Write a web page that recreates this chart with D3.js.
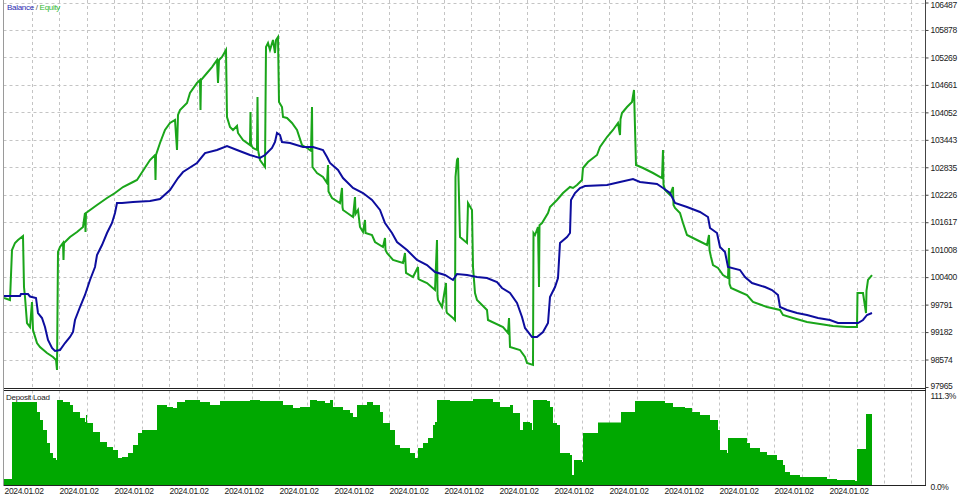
<!DOCTYPE html>
<html><head><meta charset="utf-8">
<script src="https://cdn.jsdelivr.net/npm/d3@7"></script>
<style>
body{margin:0;background:#fff}
svg{display:block}
text{font-family:"Liberation Sans",Arial,sans-serif}
</style>
</head><body><svg id="c" width="960" height="498"></svg>
<script>
// ---------- data ----------
const timeLabels = ["2024.01.02","2024.01.02","2024.01.02","2024.01.02","2024.01.02","2024.01.02","2024.01.02","2024.01.02",
                    "2024.01.02","2024.01.02","2024.01.02","2024.01.02","2024.01.02","2024.01.02","2024.01.02","2024.01.02"];
const balanceTicks = [97965, 98574, 99182, 99791, 100400, 101008, 101617, 102226, 102835, 103443, 104052, 104661, 105269, 105878, 106487];
const loadTicks = [0, 111.3];
const legendSeries = ["Balance", "Equity"];
const loadTitle = "Deposit Load";

// [time step, balance]
const balance = [[0,99982],[16,99982],[17,100026],[24,100026],[26,99971],[32,99938],[34,99605],[38,99494],[41,99295],[44,99007],[48,98829],[51,98763],[56,98785],[61,98940],[66,99073],[69,99184],[71,99450],[76,99738],[81,100004],[86,100337],[91,100625],[93,100891],[98,101112],[103,101378],[108,101600],[111,101822],[113,102043],[118,102043],[129,102065],[146,102088],[156,102132],[166,102331],[174,102597],[179,102730],[193,102930],[201,103151],[213,103218],[223,103307],[233,103218],[246,103107],[256,103041],[261,103107],[268,103262],[271,103395],[273,103595],[276,103550],[278,103395],[286,103373],[299,103284],[309,103284],[319,103218],[323,103063],[326,102930],[334,102775],[339,102597],[349,102376],[359,102265],[368,102110],[376,101888],[381,101600],[388,101378],[393,101179],[403,101001],[413,100780],[423,100669],[431,100514],[441,100447],[449,100337],[453,100470],[463,100447],[473,100403],[483,100381],[493,100292],[498,100159],[506,100048],[513,99827],[518,99516],[521,99273],[528,99073],[533,99073],[539,99184],[544,99383],[546,99960],[551,100181],[554,100381],[556,101157],[563,101290],[566,101378],[567,102110],[571,102265],[576,102376],[581,102420],[603,102442],[616,102509],[629,102575],[636,102509],[653,102464],[659,102376],[666,102265],[671,102043],[683,101955],[696,101844],[704,101733],[706,101489],[713,101378],[716,101068],[721,100957],[724,100625],[736,100558],[741,100403],[748,100270],[761,100181],[768,100115],[774,100004],[776,99738],[783,99672],[793,99605],[803,99561],[814,99494],[826,99450],[834,99383],[854,99383],[859,99450],[863,99561],[868,99605]];

// [time step, equity]
const equity = [[0,99938],[6,99893],[8,101001],[11,101157],[14,101223],[19,101312],[20,100181],[21,99960],[23,99383],[26,99295],[28,99849],[29,99228],[33,98940],[36,98852],[43,98719],[49,98630],[52,98563],[53,98342],[54,100957],[56,101068],[59,101157],[59.5,100780],[60,101157],[63,101223],[66,101290],[73,101400],[79,101511],[81,101822],[81.5,101400],[82,101822],[93,101999],[103,102154],[111,102265],[119,102398],[129,102509],[133,102553],[146,102996],[151,103107],[151.5,102553],[152,103107],[156,103373],[161,103661],[166,103816],[171,103883],[173,103218],[174,103994],[176,104104],[183,104260],[186,104481],[193,104703],[196,104769],[196.5,104104],[197,104769],[203,104924],[208,105057],[213,105213],[214,104703],[215,105213],[218,105279],[222,105434],[223,103949],[226,103728],[229,103661],[233,103750],[234,103595],[239,103439],[246,103329],[246.5,104060],[247,103329],[249,103262],[253,103218],[253.5,104393],[254,103218],[256,102996],[261,102841],[262,105501],[264,105589],[266,105434],[269,105656],[271,105368],[272,105656],[274,105722],[275,104282],[278,104171],[279,103949],[283,103927],[288,103816],[293,103661],[298,103329],[303,103262],[307,103200],[308,104171],[308.5,102841],[313,102708],[319,102619],[323,102486],[324,102885],[324.5,102300],[328,102154],[336,102043],[338,102376],[338.5,101950],[339,101888],[349,101733],[351,102176],[351.5,101800],[354,101888],[356,101511],[359,101400],[361,101666],[361.5,101380],[368,101334],[371,101179],[379,101068],[381,101267],[381.5,101000],[383,100935],[389,100780],[399,100713],[401,100935],[402,100492],[409,100403],[414,100625],[414.5,100360],[416,100337],[423,100270],[431,100115],[433,101223],[433.5,100000],[434,99893],[438,99738],[442,100270],[442.5,99640],[443,99605],[449,99494],[451,99450],[451.5,102619],[453,102996],[454,103041],[456,101290],[463,101157],[464,102043],[468,101888],[469,100625],[471,100048],[473,99893],[483,99672],[484,99450],[499,99295],[504,99162],[505,99494],[506,98852],[516,98785],[521,98630],[523,98497],[529,98453],[529.5,101378],[531,101334],[534,101511],[535,100181],[535.5,101550],[538,101600],[544,101822],[546,101955],[553,102110],[559,102265],[566,102398],[569,102376],[573,102442],[578,102553],[579,102819],[584,102952],[593,103107],[596,103284],[603,103506],[609,103661],[614,103816],[616,103550],[616.5,103900],[618,104038],[623,104171],[628,104282],[630,104548],[632,102885],[639,102819],[649,102708],[658,102597],[659,103218],[659.5,102450],[661,102331],[666,102220],[669,102398],[669.5,102000],[671,101932],[676,101822],[679,101600],[683,101334],[693,101223],[703,101112],[705,101334],[705.5,101000],[707,100846],[709,100669],[714,100603],[719,100447],[724,100381],[725,101046],[725.5,100250],[727,100159],[736,100071],[743,100004],[749,99849],[763,99738],[776,99672],[779,99561],[789,99494],[803,99406],[816,99361],[829,99317],[843,99295],[853,99295],[853.5,100048],[859,100048],[862,99605],[862.5,100100],[863,100181],[864,100337],[868,100447]];

// [time step, deposit load %]
const depositLoad = [[0,7.3],[8,100.4],[33,88.3],[36,78.6],[39,66.5],[43,50.8],[46,38.7],[49,32.7],[52,30.2],[53,102.8],[59,100.4],[66,96.8],[69,88.3],[76,81.1],[81,76.2],[82,84.7],[83,75.0],[89,64.1],[96,52.0],[103,46.0],[109,42.3],[114,32.7],[118,33.9],[124,38.7],[129,48.4],[134,62.9],[138,66.5],[153,96.8],[163,94.4],[169,93.2],[173,100.4],[181,102.8],[196,100.4],[206,96.8],[216,101.6],[246,102.8],[256,101.6],[279,96.8],[289,93.2],[296,94.4],[306,102.8],[313,101.6],[321,99.2],[326,102.8],[329,94.4],[339,90.7],[346,87.1],[349,82.3],[353,96.8],[363,100.4],[369,96.8],[376,88.3],[379,75.0],[386,66.5],[391,48.4],[396,44.8],[406,38.7],[411,32.7],[414,44.8],[419,50.8],[424,56.9],[429,72.6],[431,76.2],[433,102.8],[446,101.6],[469,103.9],[489,100.4],[496,94.4],[506,96.8],[509,87.1],[516,66.5],[519,76.2],[526,75.0],[528,66.5],[529,102.8],[543,101.6],[546,94.4],[549,75.0],[553,72.6],[556,38.7],[566,36.3],[568,12.1],[570,30.2],[578,27.8],[579,62.9],[594,75.6],[617,88.3],[631,101.6],[656,101.6],[661,99.2],[669,94.4],[681,93.2],[688,88.3],[696,84.7],[706,78.6],[714,66.5],[716,42.3],[723,38.7],[724,56.9],[736,56.9],[743,50.8],[746,44.8],[756,39.9],[763,36.3],[773,30.2],[779,24.2],[781,15.7],[786,12.1],[796,9.7],[809,9.7],[823,7.3],[833,6.0],[851,4.8],[853,43.6],[862,85.9],[868,85.9]];

const timeMax = 922;       // time steps across the plot
const gridStep = 27.5;     // time steps between vertical grid lines
const labelStep = 55;      // time steps between date labels

// ---------- layout ----------
const L = 3.5, R = 925.5;
const mainTop = 0, mainBottom = 388.5, subTop = 390.5, subBottom = 485.5;

const svg = d3.select("#c");
const x = d3.scaleLinear().domain([0, timeMax]).range([4, 926]);
const y = d3.scaleLinear().domain([balanceTicks[0], balanceTicks[balanceTicks.length-1]]).range([387, 2.5]);
const yL = d3.scaleLinear().domain([0, 111.3]).range([485, 393]);

svg.append("rect").attr("width",960).attr("height",498).attr("fill","#fff");

const defs = svg.append("defs");
defs.append("clipPath").attr("id","cm").append("rect").attr("x",L+0.5).attr("y",0).attr("width",R-L-1).attr("height",mainBottom-0.5);
defs.append("clipPath").attr("id","cs").append("rect").attr("x",L+0.5).attr("y",subTop+0.5).attr("width",R-L-1).attr("height",subBottom-subTop-1);

// grid
const grid = svg.append("g").attr("stroke","#c4c4c4").attr("stroke-width",1).attr("stroke-dasharray","3,3");
const vTicks = d3.range(gridStep, timeMax - 5, gridStep);
vTicks.forEach(t => {
  const xx = Math.round(x(t)) + 0.5;
  grid.append("line").attr("x1",xx).attr("x2",xx).attr("y1",mainTop).attr("y2",mainBottom);
  grid.append("line").attr("x1",xx).attr("x2",xx).attr("y1",subTop).attr("y2",subBottom);
});
balanceTicks.slice(1).forEach(v => {
  const yy = Math.round(y(v)) + 0.5;
  grid.append("line").attr("x1",L).attr("x2",R).attr("y1",yy).attr("y2",yy);
});

// deposit load area
const area = d3.area().x(d => x(d[0])).y0(yL(0)).y1(d => yL(d[1])).curve(d3.curveStepAfter);
svg.append("path").datum(depositLoad).attr("clip-path","url(#cs)")
  .attr("d", area).attr("fill","#00a800");

// lines
const line = d3.line().x(d => x(d[0])).y(d => y(d[1]));
svg.append("path").datum(equity).attr("clip-path","url(#cm)")
  .attr("d", line).attr("fill","none").attr("stroke","#1aa51a").attr("stroke-width",2);
svg.append("path").datum(balance).attr("clip-path","url(#cm)")
  .attr("d", line).attr("fill","none").attr("stroke","#0d0d9e").attr("stroke-width",2);

// borders
const b = svg.append("g").attr("fill","none").attr("shape-rendering","crispEdges");
b.append("line").attr("x1",L).attr("x2",L).attr("y1",0).attr("y2",subBottom).attr("stroke","#9a9a9a");
b.append("line").attr("x1",R).attr("x2",R).attr("y1",0).attr("y2",subBottom).attr("stroke","#444");
b.append("line").attr("x1",L).attr("x2",R).attr("y1",mainBottom).attr("y2",mainBottom).attr("stroke","#222");
b.append("line").attr("x1",L).attr("x2",R).attr("y1",subTop).attr("y2",subTop).attr("stroke","#222");
b.append("line").attr("x1",L).attr("x2",R).attr("y1",subBottom).attr("y2",subBottom).attr("stroke","#222");

const axisFont = t => t.attr("fill","#222").style("font-size","8.5px").style("letter-spacing","-0.35px");

// right axis (balance)
const ax = svg.append("g").attr("transform",`translate(${R},0)`)
  .call(d3.axisRight(y).tickValues(balanceTicks).tickSize(3).tickPadding(2).tickFormat(d3.format("d")));
ax.select(".domain").remove();
ax.selectAll("line").attr("stroke","#444");
ax.selectAll("text").call(axisFont);
ax.selectAll(".tick").filter(d => d === balanceTicks[0]).select("text").attr("dy","0.2em");
ax.selectAll(".tick").filter(d => d === balanceTicks[balanceTicks.length-1]).select("text").attr("dy","0.55em");

// right axis (deposit load)
const axL = svg.append("g").attr("transform",`translate(${R},0)`)
  .call(d3.axisRight(yL).tickValues(loadTicks).tickSize(0).tickPadding(5).tickFormat(d => d.toFixed(1) + "%"));
axL.select(".domain").remove();
axL.selectAll("text").call(axisFont);
axL.selectAll(".tick").filter(d => d === loadTicks[1]).select("text").attr("dy","0.6em");
axL.selectAll(".tick").filter(d => d === loadTicks[0]).select("text").attr("dy","0.5em");

// bottom date labels
const axB = svg.append("g").attr("transform",`translate(0,${subBottom})`)
  .call(d3.axisBottom(x).tickValues(timeLabels.map((d,i) => i * labelStep)).tickSize(0).tickPadding(2)
        .tickFormat((d,i) => timeLabels[i]));
axB.select(".domain").remove();
axB.selectAll("text").attr("text-anchor","start").call(axisFont);

// legend
const lg = svg.append("text").attr("x",7).attr("y",10).style("font-size","8px").style("letter-spacing","-0.3px");
lg.append("tspan").attr("fill","#2b2bb0").text(legendSeries[0]);
lg.append("tspan").attr("fill","#555").text(" / ");
lg.append("tspan").attr("fill","#2fb82f").text(legendSeries[1]);

svg.append("text").attr("x",6).attr("y",400).style("font-size","8px").style("letter-spacing","-0.3px")
  .attr("fill","#222").text(loadTitle);
</script>
</body></html>
